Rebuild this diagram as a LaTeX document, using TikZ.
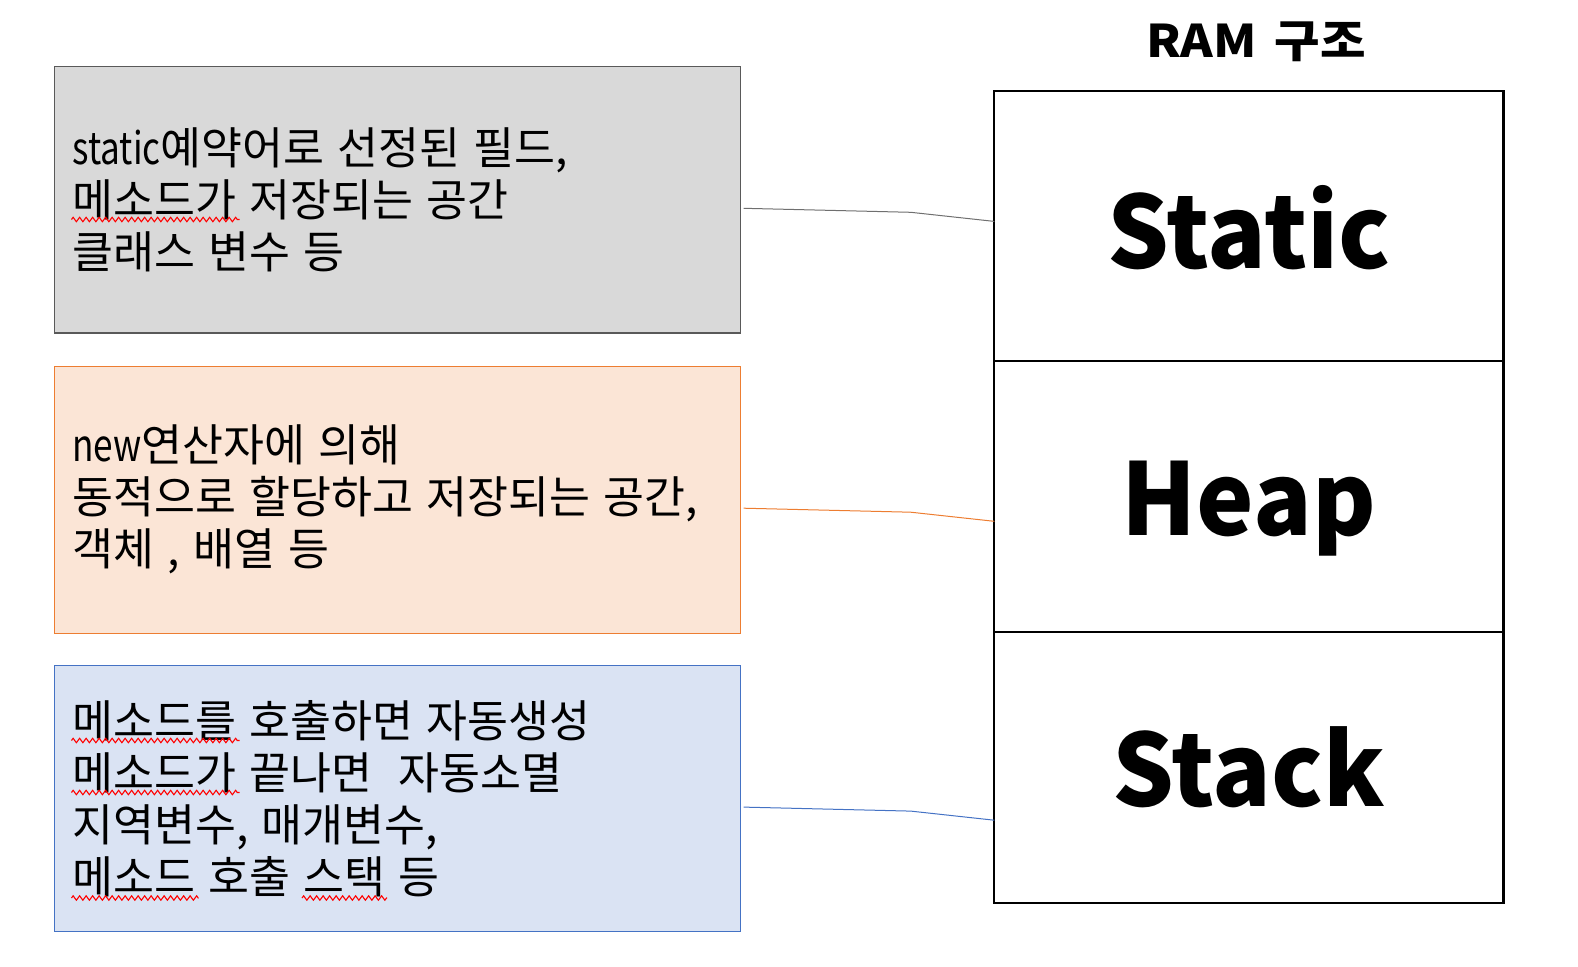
\documentclass[tikz,border=0pt]{standalone}
\usepackage{fontspec}
\setmainfont{Noto Sans CJK KR}
\newfontfamily\krfont{Noto Sans CJK KR}[WordSpace=1.33]
\newfontfamily\latnarrow{Noto Sans CJK KR}[FakeStretch=0.79,WordSpace=1.33]
\newfontfamily\krbold{Noto Sans CJK KR}[FakeStretch=0.97]
\newfontfamily\krtitle{Noto Sans CJK KR}[FakeStretch=1.1,WordSpace=1.6]
\usetikzlibrary{calc,decorations.pathmorphing}
\definecolor{grayfill}{HTML}{D9D9D9}
\definecolor{grayline}{HTML}{595959}
\definecolor{grayconn}{HTML}{6F6F6F}
\definecolor{orfill}{HTML}{FBE5D6}
\definecolor{orline}{HTML}{ED7D31}
\definecolor{blfill}{HTML}{DAE3F3}
\definecolor{blline}{HTML}{4472C4}
\tikzset{
  infobox/.style={rectangle, inner sep=0pt, outer sep=0pt, anchor=north west,
    minimum width=686.4pt, minimum height=266.7pt},
  txt/.style={inner sep=0pt, outer sep=0pt, anchor=base west,
    font=\krfont\fontsize{44.5}{52}\selectfont},
  bigword/.style={inner sep=0pt, outer sep=0pt, anchor=base,
    font=\krbold\bfseries\fontsize{100}{110}\selectfont},
  ramcell/.style={rectangle, draw=black, line width=2.2pt, inner sep=0pt, outer sep=0pt,
    anchor=north west, minimum width=509.2pt, minimum height=270.7pt},
  squiggle/.style={draw=red, line width=1.1pt,
    decorate, decoration={zigzag, segment length=6.5pt, amplitude=2.2pt}},
  conn/.style={line width=1pt}
}
\begin{document}
\begin{tikzpicture}[x=1pt,y=-1pt]
\useasboundingbox (0,0) rectangle (1578,966);
% left boxes
\node[infobox, fill=grayfill, draw=grayline, line width=1.3pt] (g) at (54.3,66.4) {};
\node[infobox, fill=orfill, draw=orline, line width=1pt] (o) at (54.3,366.3) {};
\node[infobox, fill=blfill, draw=blline, line width=1pt] (b) at (54.3,665.2) {};
% RAM structure
\node[ramcell] (s) at (994.3,90.6) {};
\node[ramcell] (h) at (994.3,361.3) {};
\node[ramcell] (k) at (994.3,632.0) {};
\node[inner sep=0pt, anchor=base, font=\krtitle\bfseries\fontsize{45}{50}\selectfont] (title) at (1256,57.5) {RAM 구조};
\node[bigword] (st) at (1249,268.5) {Static};
\node[bigword] (hp) at (1249,535.5) {Heap};
\node[bigword] (sk) at (1249,806.5) {Stack};
% texts gray
\node[txt] (g1) at (72.5,164.5) {{\latnarrow static}예약어로 선정된 필드,};
\node[txt] (g2) at (72.5,216.5) {메소드가 저장되는 공간};
\node[txt] (g3) at (72.5,268.5) {클래스 변수 등};
% texts orange
\node[txt] (o1) at (72.5,461) {{\latnarrow new}연산자에 의해};
\node[txt] (o2) at (72.5,513) {동적으로 할당하고 저장되는 공간,};
\node[txt] (o3) at (72.5,565) {객체 , 배열 등};
% texts blue
\node[txt] (b1) at (72.5,737) {메소드를 호출하면 자동생성};
\node[txt] (b2) at (72.5,789) {메소드가 끝나면 \ 자동소멸};
\node[txt] (b3) at (72.5,841) {지역변수, 매개변수,};
\node[txt] (b4) at (72.5,893) {메소드 호출 스택 등};
% wavy spell-check underlines
\draw[squiggle] ($(g2.base west)+(-1,3)$) -- ++(168,0);
\draw[squiggle] ($(b1.base west)+(-1,3.5)$) -- ++(168,0);
\draw[squiggle] ($(b2.base west)+(-1,3.5)$) -- ++(168,0);
\draw[squiggle] ($(b4.base west)+(-1,5)$) -- ++(127,0);
\draw[squiggle] ($(b4.base west)+(229.5,5)$) -- ++(85,0);
% connectors
\coordinate (gs) at (743.7,208.3);
\coordinate (gm) at (910.8,212.3);
\coordinate (ge) at (s.west |- 0,221.4);
\coordinate (os) at (743.7,508.2);
\coordinate (om) at (910.8,512.2);
\coordinate (oe) at (h.west |- 0,521.3);
\coordinate (bs) at (743.7,807.1);
\coordinate (bm) at (910.8,811.1);
\coordinate (be) at (k.west |- 0,820.2);
\draw[conn, grayconn] (gs) -- (gm) -- (ge);
\draw[conn, orline] (os) -- (om) -- (oe);
\draw[conn, blline] (bs) -- (bm) -- (be);
\end{tikzpicture}
\end{document}
